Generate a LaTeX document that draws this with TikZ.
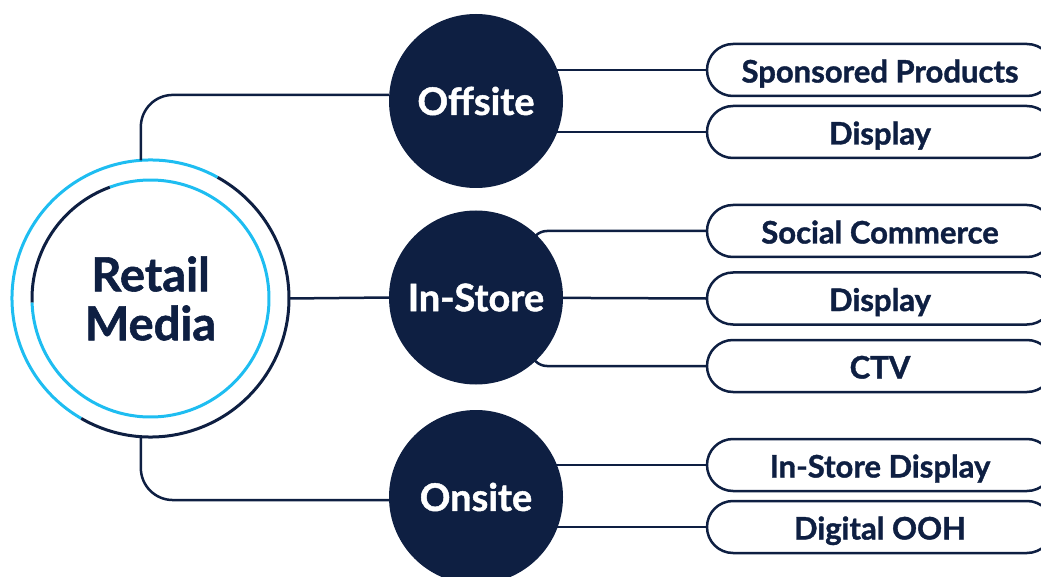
\documentclass[tikz,border=0pt]{standalone}
\usepackage{fontspec}
\setmainfont{Lato}[BoldFeatures={FakeBold=1.2}]
\usetikzlibrary{shapes.misc,backgrounds}
\definecolor{navy}{HTML}{0E1F42}
\definecolor{sky}{HTML}{1EBDF1}
\tikzset{
  hub/.style={circle, fill=navy, text=white, minimum size=174pt, inner sep=0pt, outer sep=0pt,
    font=\fontsize{38}{40}\selectfont\bfseries},
  pill/.style={rounded rectangle, draw=navy, line width=2.5pt, fill=white, minimum width=346pt,
    minimum height=52pt, inner sep=0pt, text=navy, text height=25pt, text depth=0pt,
    font=\fontsize{31}{32}\selectfont\bfseries},
  link/.style={draw=navy, line width=2.5pt},
  ring/.style={line width=3pt},
}

\begin{document}
\begin{tikzpicture}[x=1pt, y=-1pt, node distance=62pt]
  \useasboundingbox (0,0) rectangle (1041,577);

  % centre circle with its two rings
  \node (rm) [circle, minimum size=277pt, inner sep=0pt, outer sep=0pt, align=center, text=navy,
    font=\fontsize{47}{49}\selectfont\bfseries] at (150.5,298.5) {Retail\\Media};
  \draw[ring, sky] (rm.center) ++(61:138.5pt) arc[start angle=61, end angle=240, radius=138.5pt];
  \draw[ring, navy] (rm.center) ++(240:138.5pt) arc[start angle=240, end angle=421, radius=138.5pt];
  \draw[ring, navy] (rm.center) ++(110:118.5pt) arc[start angle=110, end angle=182, radius=118.5pt];
  \draw[ring, sky] (rm.center) ++(182:118.5pt) arc[start angle=182, end angle=470, radius=118.5pt];

  % channels
  \node (off) [hub] at (476,101) {Offsite};
  \node (ins) [hub] at (476,297.5) {In-Store};
  \node (on) [hub] at (476,497) {Onsite};

  \draw[link, rounded corners=32pt] (rm.94) |- (off.176);
  \draw[link] (rm.east) -- (ins.west);
  \draw[link, rounded corners=32pt] (rm.266) |- (on.182);

  % formats
  \node (sp) [pill] at (880,70) {Sponsored Products};
  \node (dp1) [pill, below of=sp] {Display};

  \node (sc) [pill] at (880,231) {Social Commerce};
  \node (dp2) [pill, below of=sc, node distance=67.5pt] {Display};
  \node (ctv) [pill, below of=dp2, node distance=67.5pt] {CTV};

  \node (isd) [pill] at (880,465) {In-Store Display};
  \node (dooh) [pill, below of=isd] {Digital OOH};

  \begin{scope}[on background layer]
    \draw[link] (off.center |- sp) -- (sp.west);
    \draw[link] (off.center |- dp1) -- (dp1.west);
    \draw[link, rounded corners=16pt] ([xshift=55pt]ins.center) |- (sc.west);
    \draw[link] (ins) -- (dp2.west);
    \draw[link, rounded corners=16pt] ([xshift=55pt]ins.center) |- (ctv.west);
    \draw[link] (on.center |- isd) -- (isd.west);
    \draw[link] (on.center |- dooh) -- (dooh.west);
  \end{scope}
\end{tikzpicture}
\end{document}
